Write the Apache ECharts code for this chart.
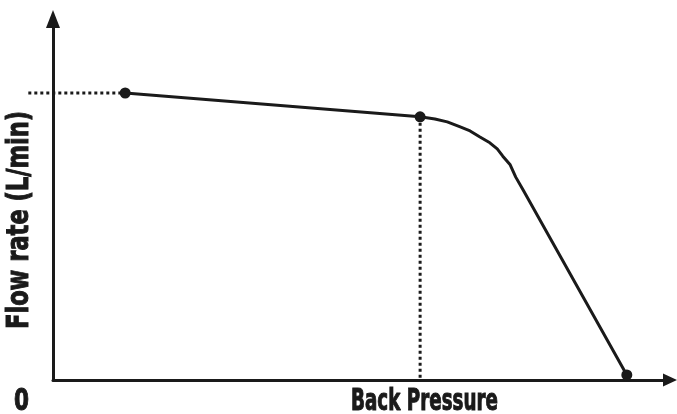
<!DOCTYPE html>
<html>
<head>
<meta charset="utf-8">
<script src="https://cdn.jsdelivr.net/npm/echarts@6/dist/echarts.min.js"></script>
<style>html,body{margin:0;padding:0;background:#fff}#c{width:677px;height:414px}</style>
</head>
<body>
<div id="c"></div>
<script>
// Curve points (x: back pressure, y: flow rate) on a 0-100 scale
var curveX = [11.7, 59.5, 61.9, 63.9, 66.0, 67.6, 69.2, 70.8, 72.0, 72.9, 74.1, 75.0, 76.2, 93.0];
var curveY = [79.5, 72.9, 72.3, 71.5, 70.1, 69.0, 67.3, 65.7, 64.0, 62.0, 59.6, 56.2, 52.6, 1.4];
// Marked points
var dotX = [11.7, 59.5, 93.0];
var dotY = [79.5, 72.9, 1.4];
// Dotted guide lines
var guideHX = [-4.0, 11.7];
var guideHY = [79.5, 79.5];
var guideVX = [59.5, 59.5];
var guideVY = [72.9, 0];
var xLabel = 'Back Pressure';
var yLabel = 'Flow rate (L/min)';
var zeroLabel = '0';

var INK = '#1a1a1a';
var FONT_FAM = "'Liberation Sans Narrow','DejaVu Sans Condensed','Roboto',sans-serif";
var FS = 30;
function fitScale(text, target) {
  var cv = document.createElement('canvas').getContext('2d');
  cv.font = 'bold ' + FS + 'px ' + FONT_FAM;
  return target / cv.measureText(text).width;
}
function pairs(xs, ys) { return xs.map(function (v, i) { return [v, ys[i]]; }); }

var PX = 617 / 100; // px per x unit on the main grid
var chart = echarts.init(document.getElementById('c'), null, {renderer: 'canvas'});
chart.setOption({
  animation: false,
  grid: [
    {left: 53, right: 7, top: 19, bottom: 34},
    {left: 53 + guideHX[0] * PX, right: 7, top: 19, bottom: 34}
  ],
  xAxis: [{
    type: 'value', min: 0, max: 100, gridIndex: 0,
    axisLine: {show: true, onZero: false, lineStyle: {color: INK, width: 3},
      symbol: ['none', 'triangle'], symbolSize: [13, 14]},
    axisTick: {show: false}, axisLabel: {show: false}, splitLine: {show: false}
  }, {
    type: 'value', min: guideHX[0], max: 100, gridIndex: 1, show: false
  }],
  yAxis: [{
    type: 'value', min: 0, max: 100, gridIndex: 0,
    axisLine: {show: true, onZero: false, lineStyle: {color: INK, width: 3},
      symbol: ['none', 'triangle'], symbolSize: [14, 18]},
    axisTick: {show: false}, axisLabel: {show: false}, splitLine: {show: false}
  }, {
    type: 'value', min: 0, max: 100, gridIndex: 1, show: false
  }],
  series: [
    {type: 'line', xAxisIndex: 1, yAxisIndex: 1, data: pairs(guideHX, guideHY), showSymbol: false, silent: true,
      lineStyle: {color: INK, width: 3, type: [3, 3]}},
    {type: 'line', data: pairs(guideVX, guideVY), showSymbol: false, silent: true,
      lineStyle: {color: INK, width: 3, type: [3, 3]}},
    {type: 'line', data: pairs(curveX, curveY), smooth: false, showSymbol: false,
      lineStyle: {color: INK, width: 3, join: 'round', cap: 'round'}},
    {type: 'scatter', data: pairs(dotX, dotY), symbolSize: 11, clip: false,
      itemStyle: {color: INK, opacity: 1}}
  ],
  graphic: [
    {type: 'text', x: 424.5, y: 402, scaleX: fitScale(xLabel, 147),
      style: {text: xLabel, x: 0, y: 0, align: 'center', verticalAlign: 'middle',
        font: 'bold ' + FS + 'px ' + FONT_FAM, fill: INK, stroke: INK, lineWidth: 1}},
    {type: 'text', x: 20, y: 220, rotation: Math.PI / 2, scaleX: fitScale(yLabel, 218),
      style: {text: yLabel, x: 0, y: 0, align: 'center', verticalAlign: 'middle',
        font: 'bold ' + FS + 'px ' + FONT_FAM, fill: INK, stroke: INK, lineWidth: 1}},
    {type: 'text', x: 21.5, y: 402, scaleX: fitScale(zeroLabel, 15),
      style: {text: zeroLabel, x: 0, y: 0, align: 'center', verticalAlign: 'middle',
        font: 'bold ' + FS + 'px ' + FONT_FAM, fill: INK, stroke: INK, lineWidth: 1}}
  ]
});
</script>
</body>
</html>
